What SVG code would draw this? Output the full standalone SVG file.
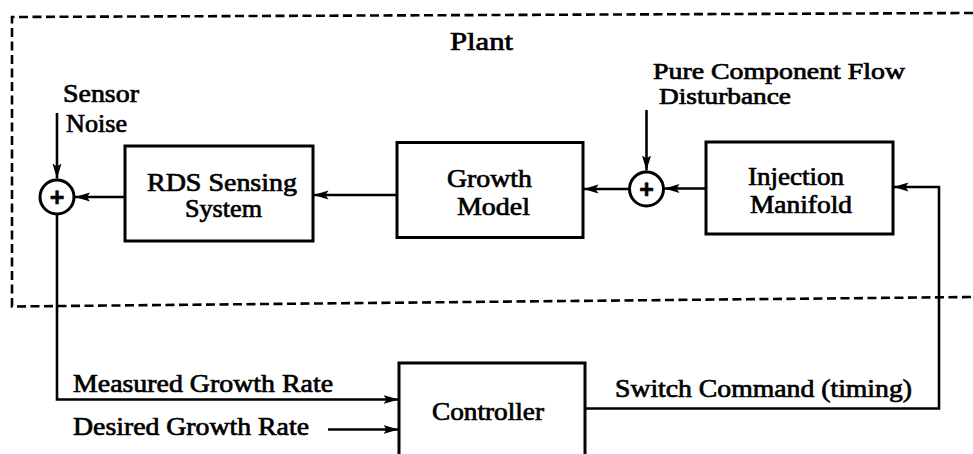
<svg xmlns="http://www.w3.org/2000/svg" width="973" height="454" viewBox="0 0 973 454">
<style>
  .box { fill: none; stroke: #000; stroke-width: 3; }
  .sum { fill: #fff; stroke: #000; stroke-width: 3; }
  .wire { fill: none; stroke: #000; stroke-width: 2.6; }
  .dash { fill: none; stroke: #000; stroke-width: 2.6; stroke-dasharray: 9 4.5; }
  .lbl { font-family: Liberation Serif, Times New Roman, serif; font-size: 25px; fill: #000; stroke: #000; stroke-width: 0.7px; }
  .plus { font-family: Liberation Sans, Arial, sans-serif; font-weight: bold; font-size: 25px; fill: #000; stroke: #000; stroke-width: 0.6px; }
</style>
<defs>
  <marker id="arrow" markerUnits="userSpaceOnUse" markerWidth="16" markerHeight="12" refX="15" refY="6" orient="auto">
    <path d="M0,1.5 L15,6 L0,10.5 L3,6 Z" fill="#000"/>
  </marker>
</defs>
<rect width="973" height="454" fill="#fff"/>

<g id="plant-boundary">
  <path class="dash" d="M973,13 L12,17 L12,306.5 L973,297"/>
  <text class="lbl" x="450" y="50" textLength="63" lengthAdjust="spacingAndGlyphs">Plant</text>
</g>

<g id="sensor-noise-label">
  <text class="lbl" x="63" y="101.5" textLength="76" lengthAdjust="spacingAndGlyphs">Sensor</text>
  <text class="lbl" x="66" y="131.5" textLength="61" lengthAdjust="spacingAndGlyphs">Noise</text>
</g>

<g id="disturbance-label">
  <text class="lbl" x="653" y="78.5" textLength="252" lengthAdjust="spacingAndGlyphs" style="font-size:23px">Pure Component Flow</text>
  <text class="lbl" x="659" y="103.5" textLength="132" lengthAdjust="spacingAndGlyphs" style="font-size:23px">Disturbance</text>
</g>

<g id="sum1">
  <circle class="sum" cx="57" cy="197" r="17"/>
  <text class="plus" x="57" y="205.5" text-anchor="middle">+</text>
</g>

<g id="rds">
  <rect class="box" x="125" y="146" width="188" height="95"/>
  <text class="lbl" x="147" y="191" textLength="150" lengthAdjust="spacingAndGlyphs">RDS Sensing</text>
  <text class="lbl" x="185" y="217" textLength="77" lengthAdjust="spacingAndGlyphs">System</text>
</g>

<g id="growth">
  <rect class="box" x="397" y="142.5" width="186" height="95"/>
  <text class="lbl" x="447" y="187" textLength="85" lengthAdjust="spacingAndGlyphs">Growth</text>
  <text class="lbl" x="457" y="215" textLength="73" lengthAdjust="spacingAndGlyphs">Model</text>
</g>

<g id="sum2">
  <circle class="sum" cx="646.5" cy="189" r="17"/>
  <text class="plus" x="646.5" y="197.5" text-anchor="middle">+</text>
</g>

<g id="injection">
  <rect class="box" x="706" y="142" width="187" height="92"/>
  <text class="lbl" x="748" y="185" textLength="96" lengthAdjust="spacingAndGlyphs">Injection</text>
  <text class="lbl" x="750" y="213" textLength="102" lengthAdjust="spacingAndGlyphs">Manifold</text>
</g>

<g id="controller">
  <rect class="box" x="399" y="363" width="186" height="100"/>
  <text class="lbl" x="432" y="420" textLength="112" lengthAdjust="spacingAndGlyphs">Controller</text>
</g>

<g id="signal-labels">
  <text class="lbl" x="73" y="391.5" textLength="260" lengthAdjust="spacingAndGlyphs">Measured Growth Rate</text>
  <text class="lbl" x="73" y="435" textLength="236" lengthAdjust="spacingAndGlyphs">Desired Growth Rate</text>
  <text class="lbl" x="615" y="396.5" textLength="297" lengthAdjust="spacingAndGlyphs">Switch Command (timing)</text>
</g>

<g id="connectors">
  <line class="wire" x1="57" y1="113" x2="57" y2="178.5" marker-end="url(#arrow)"/>
  <line class="wire" x1="125" y1="197" x2="75" y2="197" marker-end="url(#arrow)"/>
  <line class="wire" x1="397" y1="195" x2="313.5" y2="195" marker-end="url(#arrow)"/>
  <line class="wire" x1="629" y1="189" x2="583.5" y2="189" marker-end="url(#arrow)"/>
  <line class="wire" x1="706" y1="188.5" x2="664.5" y2="188.5" marker-end="url(#arrow)"/>
  <line class="wire" x1="646.5" y1="110" x2="646.5" y2="170.5" marker-end="url(#arrow)"/>
  <path class="wire" d="M57,215 V399.5 H398.5" marker-end="url(#arrow)"/>
  <line class="wire" x1="328" y1="429.5" x2="398.5" y2="429.5" marker-end="url(#arrow)"/>
  <path class="wire" d="M585,408.5 H939 V187 H893.5" marker-end="url(#arrow)"/>
</g>
</svg>
